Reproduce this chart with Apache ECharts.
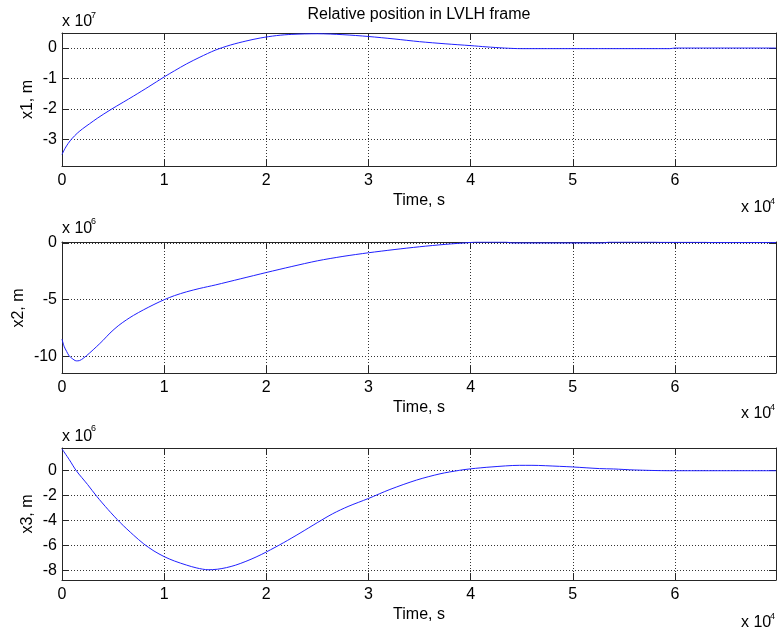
<!DOCTYPE html>
<html><head><meta charset="utf-8">
<script src="https://cdn.jsdelivr.net/npm/echarts@6/dist/echarts.min.js"></script>
<style>html,body{margin:0;padding:0;background:#fff}#c{width:778px;height:630px}</style>
</head><body><div id="c"></div><script>
// Time in units of 1e4 s
const xTickLabels = [0, 1, 2, 3, 4, 5, 6];
const tEnd = 6.989;

// x1 in units of 1e7 m
const t1 = [0, 0.03, 0.06, 0.1, 0.15, 0.2, 0.27, 0.35, 0.47, 0.6, 0.7, 0.85, 1.0, 1.1, 1.22, 1.35, 1.5, 1.65, 1.8, 1.94, 2.1, 2.25, 2.5, 2.75, 3.0, 3.25, 3.5, 3.75, 4.0, 4.15, 4.33, 4.5, 5.0, 5.5, 5.95, 6.0, 6.989];
const x1 = [-3.5, -3.3, -3.14, -2.97, -2.8, -2.66, -2.49, -2.3, -2.04, -1.78, -1.58, -1.27, -0.95, -0.75, -0.52, -0.3, -0.07, 0.1, 0.23, 0.33, 0.41, 0.45, 0.47, 0.44, 0.38, 0.3, 0.21, 0.14, 0.08, 0.04, 0.0, -0.02, -0.02, -0.02, -0.02, 0.0, 0.0];
const x1Ticks = [-3, -2, -1, 0];

// x2 in units of 1e6 m
const t2 = [0, 0.02, 0.046, 0.07, 0.095, 0.14, 0.17, 0.21, 0.27, 0.34, 0.4, 0.47, 0.55, 0.63, 0.7, 0.8, 0.9, 1.0, 1.1, 1.22, 1.35, 1.5, 1.75, 2.0, 2.25, 2.5, 2.75, 3.0, 3.25, 3.5, 3.75, 4.0, 4.05, 4.35, 4.4, 5.3, 5.35, 5.8, 5.85, 6.3, 6.35, 6.989];
const x2 = [-8.47, -9.1, -9.57, -9.95, -10.15, -10.39, -10.37, -10.15, -9.7, -9.12, -8.6, -7.94, -7.3, -6.78, -6.38, -5.88, -5.42, -5.0, -4.64, -4.3, -4.0, -3.7, -3.15, -2.6, -2.07, -1.57, -1.18, -0.86, -0.58, -0.33, -0.12, 0.05, 0.08, 0.08, 0.01, 0.01, 0.08, 0.08, 0.06, 0.06, 0.04, 0.04];
const x2Ticks = [-10, -5, 0];

// x3 in units of 1e6 m
const t3 = [0, 0.07, 0.14, 0.25, 0.34, 0.45, 0.57, 0.7, 0.8, 0.9, 1.0, 1.1, 1.22, 1.32, 1.43, 1.52, 1.61, 1.7, 1.8, 1.9, 2.0, 2.17, 2.33, 2.5, 2.65, 2.8, 3.0, 3.21, 3.47, 3.7, 3.89, 4.0, 4.2, 4.48, 4.6, 4.87, 5.0, 5.26, 5.4, 5.6, 5.95, 6.989];
const x3 = [1.74, 0.9, 0.0, -1.1, -2.05, -3.1, -4.15, -5.15, -5.85, -6.42, -6.87, -7.22, -7.55, -7.78, -7.92, -7.88, -7.75, -7.55, -7.25, -6.9, -6.5, -5.75, -4.99, -4.15, -3.44, -2.86, -2.22, -1.5, -0.75, -0.25, 0.03, 0.15, 0.3, 0.43, 0.43, 0.35, 0.3, 0.17, 0.14, 0.06, 0.0, 0.0];
const x3Ticks = [-8, -6, -4, -2, 0];

const yLimits = [[-3.88, 0.495], [-11.46, 0.09], [-8.74, 1.816]];
const yTicks = [x1Ticks, x2Ticks, x3Ticks];

const FONT = "'Liberation Sans', Arial, Helvetica, sans-serif";
const AX = '#262626';
const grids = [
  {left: 62, top: 33, width: 714, height: 133},
  {left: 62, top: 242, width: 714, height: 131},
  {left: 62, top: 448, width: 714, height: 132}
];

const xAxis = [], yAxis = [], series = [];
const ts = [t1, t2, t3], xs = [x1, x2, x3];
for (let i = 0; i < 3; i++) {
  const common = {type: 'value', gridIndex: i, min: 0, max: tEnd,
    axisLine: {show: true, onZero: false, lineStyle: {color: AX, width: 1}},
    axisTick: {show: true, inside: true, length: 7, lineStyle: {color: AX}, customValues: xTickLabels}};
  xAxis.push(Object.assign({}, common, {position: 'bottom',
    axisLabel: {show: true, margin: 7, fontSize: 16, color: '#000', fontFamily: FONT, lineHeight: 16,
      customValues: xTickLabels, formatter: v => String(Math.round(v))},
    splitLine: {show: true, lineStyle: {color: '#333', type: [1, 2], width: 1}}}));
  xAxis.push(Object.assign({}, common, {position: 'top', axisLabel: {show: false}, splitLine: {show: false}}));
  const yc = {type: 'value', gridIndex: i, min: yLimits[i][0], max: yLimits[i][1],
    axisLine: {show: true, onZero: false, lineStyle: {color: AX, width: 1}},
    axisTick: {show: true, inside: true, length: 7, lineStyle: {color: AX}, customValues: yTicks[i]}};
  yAxis.push(Object.assign({}, yc, {position: 'left',
    axisLabel: {show: true, margin: 5, fontSize: 16, color: '#000', fontFamily: FONT,
      customValues: yTicks[i], formatter: v => String(Math.round(v))},
    splitLine: {show: true, lineStyle: {color: '#333', type: [1, 2], width: 1}}}));
  yAxis.push(Object.assign({}, yc, {position: 'right', axisLabel: {show: false}, splitLine: {show: false}}));
  series.push({type: 'line', xAxisIndex: 2 * i, yAxisIndex: 2 * i,
    data: ts[i].map((t, k) => [t, xs[i][k]]), showSymbol: false, symbol: 'none',
    smooth: 0.3, lineStyle: {color: '#2020ff', width: 1}, silent: true});
}

function txt(x, y, s, size, extra) {
  return {type: 'text', x: x, y: y, silent: true,
    style: Object.assign({text: s, fontSize: size, fontFamily: FONT, fill: '#000', align: 'left', verticalAlign: 'middle'}, extra || {})};
}
const graphic = [
  txt(419, 15, 'Relative position in LVLH frame', 16, {align: 'center'}),
  txt(419, 201, 'Time, s', 16, {align: 'center'}),
  txt(419, 408, 'Time, s', 16, {align: 'center'}),
  txt(419, 615, 'Time, s', 16, {align: 'center'}),
  txt(62, 22, 'x 10', 16), txt(91, 16, '7', 9),
  txt(62, 229, 'x 10', 16), txt(91, 222, '6', 9),
  txt(62, 437, 'x 10', 16), txt(91, 429, '6', 9),
  txt(741, 208, 'x 10', 16), txt(770, 202, '4', 9),
  txt(741, 414, 'x 10', 16), txt(770, 408, '4', 9),
  txt(741, 623, 'x 10', 16), txt(770, 617, '4', 9)
];
const ylab = [['x1, m', 28, 99.5], ['x2, m', 19, 308], ['x3, m', 28, 514]];
ylab.forEach(([s, x, y]) => {
  graphic.push({type: 'text', x: x, y: y, rotation: Math.PI / 2, silent: true,
    style: {text: s, fontSize: 16, fontFamily: FONT, fill: '#000', align: 'center', verticalAlign: 'middle'}});
});

const chart = echarts.init(document.getElementById('c'), null, {renderer: 'canvas'});
chart.setOption({backgroundColor: '#fff', animation: false, grid: grids, xAxis, yAxis, series, graphic});
</script></body></html>
